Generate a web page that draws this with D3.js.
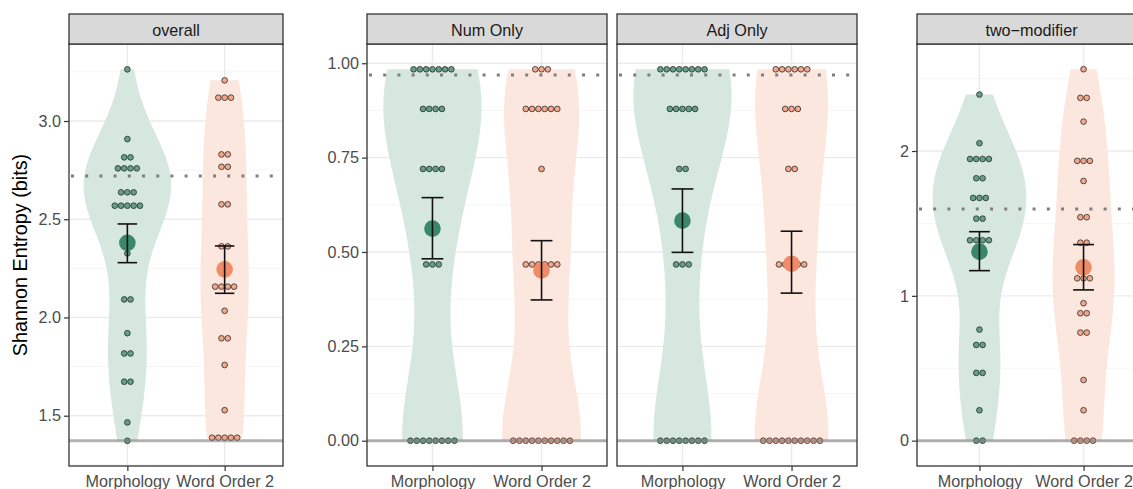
<!DOCTYPE html>
<html>
<head>
<meta charset="utf-8">
<script src="https://cdn.jsdelivr.net/npm/d3@7"></script>
<style>
  body { margin: 0; background: #fff; overflow: hidden; }
  svg { display: block; }
  text { font-family: "Liberation Sans", Arial, sans-serif; }
</style>
</head>
<body>
<svg id="chart"></svg>
<script>
// groups on the x axis and facet titles
var groups = ["Morphology", "Word Order 2"];
var panelNames = ["overall", "Num Only", "Adj Only", "two\u2212modifier"];

// one value per dot
var overallMorph = [3.263, 2.908, 2.815, 2.815, 2.759, 2.759, 2.759, 2.759, 2.637, 2.637, 2.637,
  2.569, 2.569, 2.569, 2.569, 2.569, 2.326, 2.092, 2.092, 1.920, 1.817, 1.817, 1.673, 1.673, 1.466, 1.372];
var overallWord = [3.207, 3.119, 3.119, 3.119, 2.830, 2.830, 2.767, 2.767, 2.576, 2.576, 2.362, 2.362,
  2.157, 2.157, 2.157, 2.157, 2.034, 1.894, 1.894, 1.758, 1.528, 1.388, 1.388, 1.388, 1.388, 1.388];
var numMorph = [0.984, 0.984, 0.984, 0.984, 0.984, 0.984, 0.984, 0.879, 0.879, 0.879, 0.879,
  0.720, 0.720, 0.720, 0.720, 0.467, 0.467, 0.467, 0, 0, 0, 0, 0, 0, 0, 0];
var numWord = [0.984, 0.984, 0.984, 0.879, 0.879, 0.879, 0.879, 0.879, 0.879, 0.720,
  0.467, 0.467, 0.467, 0.467, 0.467, 0.467, 0, 0, 0, 0, 0, 0, 0, 0, 0, 0];
var adjMorph = [0.984, 0.984, 0.984, 0.984, 0.984, 0.984, 0.984, 0.984, 0.879, 0.879, 0.879, 0.879, 0.879,
  0.720, 0.720, 0.467, 0.467, 0.467, 0, 0, 0, 0, 0, 0, 0, 0];
var adjWord = [0.984, 0.984, 0.984, 0.984, 0.984, 0.984, 0.879, 0.879, 0.879, 0.720, 0.720,
  0.467, 0.467, 0.467, 0.467, 0.467, 0, 0, 0, 0, 0, 0, 0, 0, 0, 0];
var twoMorph = [2.390, 2.054, 1.945, 1.945, 1.945, 1.945, 1.812, 1.812, 1.676, 1.676, 1.676, 1.533, 1.533,
  1.384, 1.384, 1.384, 1.384, 1.271, 0.767, 0.661, 0.661, 0.468, 0.468, 0.210, 0, 0];
var twoWord = [2.565, 2.367, 2.367, 2.203, 1.932, 1.932, 1.932, 1.793, 1.543, 1.543, 1.367, 1.367,
  1.121, 1.121, 1.121, 0.949, 0.880, 0.880, 0.746, 0.746, 0.419, 0.210, 0, 0, 0, 0];

// means and interval ends per group [Morphology, Word Order 2]
var overallMean = [2.380, 2.245], overallLow = [2.279, 2.123], overallHigh = [2.476, 2.364];
var numMean = [0.562, 0.451], numLow = [0.482, 0.373], numHigh = [0.644, 0.530];
var adjMean = [0.583, 0.469], adjLow = [0.499, 0.391], adjHigh = [0.667, 0.555];
var twoMean = [1.305, 1.197], twoLow = [1.174, 1.041], twoHigh = [1.443, 1.354];

// reference lines per panel
var dottedRef = [2.72, 0.969, 0.969, 1.60];
var floorRef = [1.372, 0, 0, 0];

// tick labels per panel (empty = no axis drawn)
var tickLabels = [["1.5", "2.0", "2.5", "3.0"], ["0.00", "0.25", "0.50", "0.75", "1.00"], [], ["0", "1", "2"]];
var minorTicks = [[1.25, 1.75, 2.25, 2.75, 3.25], [0.125, 0.375, 0.625, 0.875], [0.125, 0.375, 0.625, 0.875], [0.5, 1.5, 2.5]];
var gridTicks = [[1.5, 2, 2.5, 3], [0, 0.25, 0.5, 0.75, 1], [0, 0.25, 0.5, 0.75, 1], [0, 1, 2]];

var panelData = [
  { dots: [overallMorph, overallWord], mean: overallMean, low: overallLow, high: overallHigh },
  { dots: [numMorph, numWord], mean: numMean, low: numLow, high: numHigh },
  { dots: [adjMorph, adjWord], mean: adjMean, low: adjLow, high: adjHigh },
  { dots: [twoMorph, twoWord], mean: twoMean, low: twoLow, high: twoHigh }
];

// layout
var width = 1133, height = 489;
var panelTop = 44, panelBottom = 466, stripTop = 14;
var boxes = [[69, 283], [367, 607], [617, 857], [917, 1146]];
var yDomains = [[1.244, 3.392], [-0.067, 1.051], [-0.067, 1.051], [-0.175, 2.739]];
var fontSize = 16.2;

var fillDark = ["#3a876a", "#ef8b66"];
var fillDot = ["#64a088", "#f4a78b"];
var fillViolin = ["#d6e7e0", "#fce7df"];

var svg = d3.select("#chart").attr("width", width).attr("height", height);

// gaussian kde like R density(), trimmed to the data range
function kde(values) {
  var sorted = values.slice().sort(d3.ascending);
  var n = values.length;
  var sd = d3.deviation(values);
  var iqr = d3.quantile(sorted, 0.75) - d3.quantile(sorted, 0.25);
  var lo = Math.min(sd, iqr / 1.34);
  if (!lo) lo = sd;
  var bw = 0.9 * lo * Math.pow(n, -0.2);
  var a = sorted[0], b = sorted[n - 1];
  return d3.range(512).map(function (i) {
    var yv = a + (b - a) * i / 511;
    var dens = d3.mean(values, function (v) {
      var u = (yv - v) / bw;
      return Math.exp(-0.5 * u * u) / Math.sqrt(2 * Math.PI);
    }) / bw;
    return [yv, dens];
  });
}

panelData.forEach(function (p, pi) {
  var x = d3.scaleLinear().domain([0.4, 2.6]).range(boxes[pi]);
  var y = d3.scaleLinear().domain(yDomains[pi]).range([panelBottom, panelTop]);
  var g = svg.append("g");
  var x0 = boxes[pi][0], x1 = boxes[pi][1];

  // grid
  g.selectAll(".minor").data(minorTicks[pi]).enter().append("line")
    .attr("x1", x0).attr("x2", x1).attr("y1", d => y(d)).attr("y2", d => y(d))
    .attr("stroke", "#f2f2f2").attr("stroke-width", 0.8);
  g.selectAll(".major").data(gridTicks[pi]).enter().append("line")
    .attr("x1", x0).attr("x2", x1).attr("y1", d => y(d)).attr("y2", d => y(d))
    .attr("stroke", "#ebebeb").attr("stroke-width", 1.4);
  g.selectAll(".vmajor").data([1, 2]).enter().append("line")
    .attr("x1", d => x(d)).attr("x2", d => x(d)).attr("y1", panelTop).attr("y2", panelBottom)
    .attr("stroke", "#ebebeb").attr("stroke-width", 1.4);

  // violins, scaled so the widest density in the panel spans 0.9 units
  var dens = p.dots.map(kde);
  var maxD = d3.max(dens, d => d3.max(d, e => e[1]));
  dens.forEach(function (dd, gi) {
    var cx = gi + 1;
    var area = d3.area()
      .y(d => y(d[0]))
      .x0(d => x(cx - 0.45 * d[1] / maxD))
      .x1(d => x(cx + 0.45 * d[1] / maxD));
    g.append("path").attr("d", area(dd)).attr("fill", fillViolin[gi]);
  });

  // dotted reference line
  g.append("line")
    .attr("x1", x0 + 2).attr("x2", x1).attr("y1", y(dottedRef[pi])).attr("y2", y(dottedRef[pi]))
    .attr("stroke", "#7f7f7f").attr("stroke-width", 3).attr("stroke-dasharray", "3 11.2");

  // stacked dots, centred on the group
  var dotD = 6.3;
  p.dots.forEach(function (vals, gi) {
    var bins = d3.groups(vals, v => v);
    bins.forEach(function (bin) {
      var k = bin[1].length;
      g.selectAll(null).data(d3.range(k)).enter().append("circle")
        .attr("cx", i => x(gi + 1) + (i - (k - 1) / 2) * dotD)
        .attr("cy", y(bin[0]))
        .attr("r", dotD / 2 - 0.3)
        .attr("fill", fillDot[gi])
        .attr("stroke", "#2b2b2b").attr("stroke-width", 0.8);
    });
  });

  // floor line
  g.append("line")
    .attr("x1", x0).attr("x2", x1).attr("y1", y(floorRef[pi])).attr("y2", y(floorRef[pi]))
    .attr("stroke", "#7f7f7f").attr("stroke-opacity", 0.6).attr("stroke-width", 3);

  // means
  g.selectAll(".mean").data(p.mean).enter().append("circle")
    .attr("cx", (d, i) => x(i + 1)).attr("cy", d => y(d)).attr("r", 8.3)
    .attr("fill", (d, i) => fillDark[i]);

  // error bars
  groups.forEach(function (name, gi) {
    var cx = gi + 1;
    var eb = g.append("g").attr("stroke", "#111").attr("stroke-width", 1.6).attr("fill", "none");
    eb.append("line").attr("x1", x(cx)).attr("x2", x(cx)).attr("y1", y(p.low[gi])).attr("y2", y(p.high[gi]));
    eb.append("line").attr("x1", x(cx - 0.1)).attr("x2", x(cx + 0.1)).attr("y1", y(p.low[gi])).attr("y2", y(p.low[gi]));
    eb.append("line").attr("x1", x(cx - 0.1)).attr("x2", x(cx + 0.1)).attr("y1", y(p.high[gi])).attr("y2", y(p.high[gi]));
  });

  // panel border and strip
  g.append("rect").attr("x", x0).attr("y", panelTop).attr("width", x1 - x0).attr("height", panelBottom - panelTop)
    .attr("fill", "none").attr("stroke", "#333").attr("stroke-width", 1.3);
  g.append("rect").attr("x", x0).attr("y", stripTop).attr("width", x1 - x0).attr("height", panelTop - stripTop)
    .attr("fill", "#d9d9d9").attr("stroke", "#333").attr("stroke-width", 1.3);
  g.append("text").attr("x", (x0 + x1) / 2).attr("y", 35.5).attr("text-anchor", "middle")
    .attr("font-size", fontSize).attr("fill", "#1a1a1a").text(panelNames[pi]);

  // x axis
  var xAxis = g.append("g").attr("transform", "translate(0," + panelBottom + ")")
    .call(d3.axisBottom(x).tickValues([1, 2]).tickFormat(d => groups[d - 1]).tickSize(5).tickPadding(4));
  xAxis.select(".domain").remove();
  xAxis.selectAll("line").attr("stroke", "#333").attr("stroke-width", 1.2);
  xAxis.selectAll("text").attr("font-size", fontSize).attr("fill", "#4d4d4d")
    .attr("font-family", "Liberation Sans, Arial, sans-serif");

  // y axis
  if (tickLabels[pi].length) {
    var yAxis = g.append("g").attr("transform", "translate(" + x0 + ",0)")
      .call(d3.axisLeft(y).tickValues(tickLabels[pi].map(Number)).tickFormat((d, i) => tickLabels[pi][i])
        .tickSize(5).tickPadding(3));
    yAxis.select(".domain").remove();
    yAxis.selectAll("line").attr("stroke", "#333").attr("stroke-width", 1.2);
    yAxis.selectAll("text").attr("font-size", fontSize).attr("fill", "#4d4d4d")
      .attr("font-family", "Liberation Sans, Arial, sans-serif");
  }
});

// y axis title
svg.append("text")
  .attr("transform", "translate(27," + (panelTop + panelBottom) / 2 + ") rotate(-90)")
  .attr("text-anchor", "middle").attr("font-size", 19.8).attr("fill", "#000")
  .text("Shannon Entropy (bits)");
</script>
</body>
</html>
